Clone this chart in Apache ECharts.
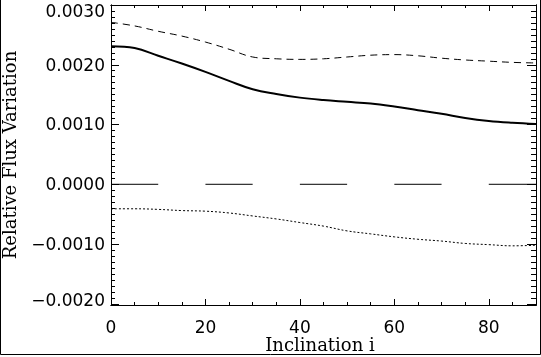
<!DOCTYPE html>
<html><head><meta charset="utf-8">
<script src="https://cdn.jsdelivr.net/npm/echarts@6/dist/echarts.min.js"></script>
<style>html,body{margin:0;padding:0;background:#fff}#c{width:541px;height:357px}</style>
</head><body><div id="c"></div>
<script>
const inclination = [0,5,10,15,20,25,30,35,40,45,50,55,60,65,70,75,80,85,90];
const solidFlux  = [0.00231,0.00228,0.00215,0.00202,0.00188,0.00173,0.00159,0.00151,0.00145,0.00141,0.00138,0.00135,0.00130,0.00124,0.00118,0.00111,0.00106,0.00103,0.00101];
const dashedFlux = [0.00271,0.00265,0.00256,0.00248,0.00238,0.00226,0.00213,0.00210,0.00209,0.00210,0.00213,0.00216,0.00217,0.00215,0.00211,0.00208,0.00206,0.00204,0.00203];
const dottedFlux = [-0.00041,-0.00041,-0.00042,-0.00044,-0.00045,-0.00048,-0.00053,-0.00058,-0.00064,-0.00070,-0.00078,-0.00083,-0.00088,-0.00092,-0.00095,-0.00099,-0.00101,-0.00103,-0.00102];
const zeroSegments = [[0,10],[20,30],[40,50],[60,70],[80,90]];
const xMajorTicks = [0,20,40,60,80];
const xTickLabels = ['0','20','40','60','80'];
const xMinorTicks = [5,10,15,25,30,35,45,50,55,65,70,75,85];
const yMajorTicks = [-0.002,-0.001,0,0.001,0.002,0.003];
const yTickLabels = ['\u22120.0020','\u22120.0010','0.0000','0.0010','0.0020','0.0030'];
const yMinorTicks = [];
for (let k = -19; k <= 29; k++) { if (k % 10 !== 0) yMinorTicks.push(k / 10000); }

const X_MIN = 0, X_MAX = 90, Y_MIN = -0.00202, Y_MAX = 0.003;
const tickFont = 'DejaVu Sans';
const titleFont = 'DejaVu Serif';
const TF = 17;

function pairs(ys){ return inclination.map((x,i)=>[x,ys[i]]); }
const zeroData = [];
zeroSegments.forEach((s,i)=>{ if(i>0) zeroData.push([ (zeroSegments[i-1][1]+s[0])/2, '-' ]); zeroData.push([s[0],0]); zeroData.push([s[1],0]); });

function xAx(pos, ticks, len, labels, name){
  return {
    type:'value', position:pos, min:X_MIN, max:X_MAX,
    axisLine:{show:true, onZero:false, lineStyle:{color:'#000',width:1}},
    axisTick:{show:true, inside:true, length:len, customValues:ticks, lineStyle:{color:'#000',width:1}},
    axisLabel: labels ? {show:true, customValues:xMajorTicks, margin:15, color:'#000', fontFamily:tickFont, fontSize:TF,
       formatter:(v)=>{const i=xMajorTicks.indexOf(v); return i>=0?xTickLabels[i]:'';}} : {show:false},
    splitLine:{show:false},
    name: name||'', nameLocation:'middle', nameGap:32, nameMoveOverlap:false,
    nameTextStyle:{color:'#000', fontFamily:titleFont, fontSize:18, padding:[0,7,0,0]}
  };
}
function yAx(pos, ticks, len, labels, name){
  return {
    type:'value', position:pos, min:Y_MIN, max:Y_MAX,
    axisLine:{show:true, onZero:false, lineStyle:{color:'#000',width:1}},
    axisTick:{show:true, inside:true, length:len, customValues:ticks, lineStyle:{color:'#000',width:1}},
    axisLabel: labels ? {show:true, customValues:yMajorTicks, margin:6, color:'#000', fontFamily:tickFont, fontSize:TF,
       formatter:(v)=>{
         let i=-1; yMajorTicks.forEach((t,j)=>{ if(Math.abs(t-v)<1e-9) i=j; });
         if(i<0) return '';
         if(i===yMajorTicks.length-1) return '{top|'+yTickLabels[i]+'}';
         if(i===0) return '{bot|'+yTickLabels[i]+'}';
         return '{mid|'+yTickLabels[i]+'}';
       },
       rich:{ top:{padding:[15,0,0,0], fontFamily:tickFont, fontSize:TF, color:'#000'},
              mid:{padding:[3,0,0,0], fontFamily:tickFont, fontSize:TF, color:'#000'},
              bot:{padding:[0,0,4,0], fontFamily:tickFont, fontSize:TF, color:'#000'} }
    } : {show:false},
    splitLine:{show:false},
    name: name||'', nameLocation:'middle', nameGap:91, nameRotate:90, nameMoveOverlap:false,
    nameTextStyle:{color:'#000', fontFamily:titleFont, fontSize:18}
  };
}

const chart = echarts.init(document.getElementById('c'), null, {renderer:'canvas'});
chart.setOption({
  animation:false,
  backgroundColor:'#fff',
  grid:{left:111, top:5, width:425, height:300, containLabel:false, outerBoundsMode:'none'},
  xAxis:[
    xAx('bottom', xMajorTicks, 6, true, 'Inclination i'),
    xAx('bottom', xMinorTicks, 3, false),
    xAx('top', xMajorTicks, 6, false),
    xAx('top', xMinorTicks, 3, false)
  ],
  yAxis:[
    yAx('left', yMajorTicks, 8, true, 'Relative Flux Variation'),
    yAx('left', yMinorTicks, 4, false),
    yAx('right', yMajorTicks, 9, false),
    yAx('right', yMinorTicks, 5, false)
  ],
  graphic:[{type:'polyline', shape:{points:[[0.5,0],[0.5,354.5],[540.5,354.5],[540.5,0]]}, style:{stroke:'#000', lineWidth:1, fill:null}, silent:true}],
  series:[
    {type:'line', xAxisIndex:0, yAxisIndex:0, data:pairs(solidFlux), showSymbol:false, symbol:'none', smooth:0.4,
     lineStyle:{color:'#000', width:2}},
    {type:'line', xAxisIndex:0, yAxisIndex:0, data:pairs(dashedFlux), showSymbol:false, symbol:'none', smooth:0.4,
     lineStyle:{color:'#000', width:1, type:[7,5]}},
    {type:'line', xAxisIndex:0, yAxisIndex:0, data:pairs(dottedFlux), showSymbol:false, symbol:'none', smooth:0.4,
     lineStyle:{color:'#000', width:1, type:[2,2]}},
    {type:'line', xAxisIndex:0, yAxisIndex:0, data:zeroData, showSymbol:false, symbol:'none', connectNulls:false,
     lineStyle:{color:'#000', width:1}}
  ]
});
</script></body></html>
